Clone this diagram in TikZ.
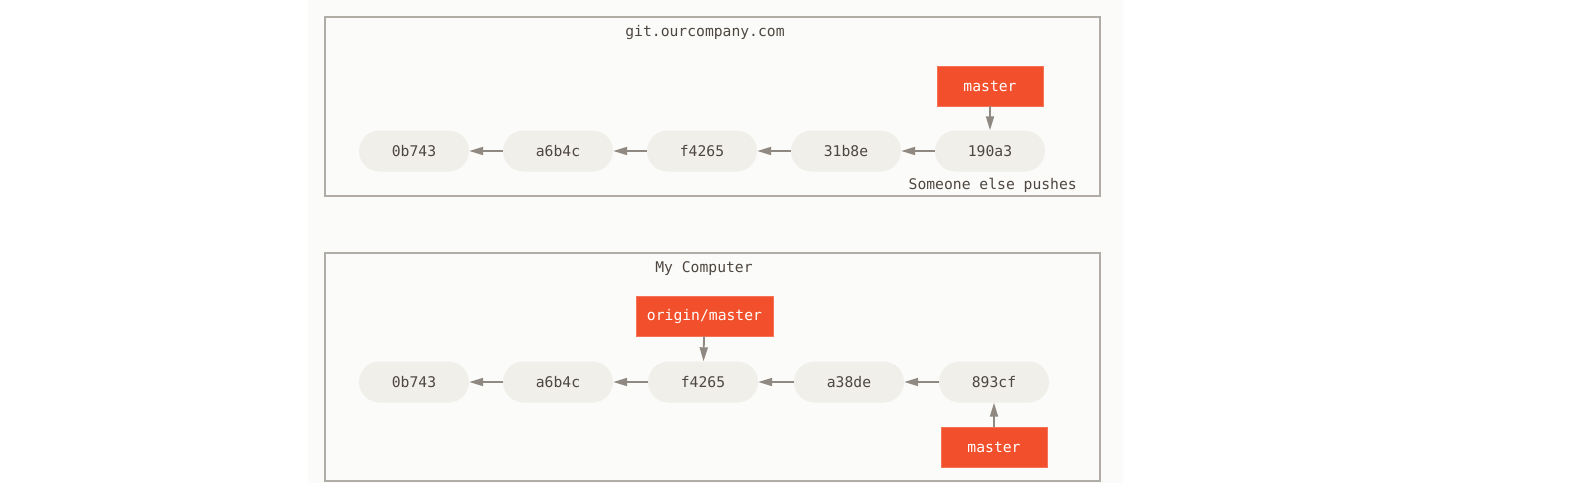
\documentclass[tikz,border=0pt]{standalone}
\usepackage{fontspec}
\setmonofont{DejaVu Sans Mono}
\usepackage{tikz}
\usetikzlibrary{arrows.meta, positioning}
\definecolor{bgwarm}{RGB}{251, 251, 249}
\definecolor{framegray}{RGB}{176, 173, 167}
\definecolor{commitfill}{RGB}{240, 239, 233}
\definecolor{inkbrown}{RGB}{78, 70, 64}
\definecolor{gitred}{RGB}{242, 80, 44}
\definecolor{arrowgray}{RGB}{143, 137, 130}

\begin{document}
\begin{tikzpicture}[
  x=1pt, y=-1pt,
  font=\ttfamily\fontsize{14.7}{17}\selectfont,
  commit/.style={fill=commitfill, rounded corners=20.5pt, minimum height=41pt, minimum width=110pt, inner sep=0pt, text=inkbrown},
  branch/.style={fill=gitred, draw=gitred!80!white, line width=0.8pt, minimum height=40pt, minimum width=106pt, inner sep=0pt, text=white},
  frame/.style={draw=framegray, line width=1.6pt},
  label/.style={text=inkbrown, inner sep=0pt},
  arrow/.style={-{Triangle[length=14pt, width=8pt]}, line width=1.8pt, draw=arrowgray, shorten >=0pt}
]
  \useasboundingbox (0,0) rectangle (1582,488);
  \fill[white] (0,0) rectangle (1582,488);
  \fill[bgwarm] (308,0) rectangle (1123,483);

  % Server
  \draw[frame] (325,17) rectangle (1100,196);
  \node[label] (server) at (705,32) {git.ourcompany.com};
  \node[commit] (s0) at (414,151) {0b743};
  \node[commit] (s1) at (558,151) {a6b4c};
  \node[commit] (s2) at (702,151) {f4265};
  \node[commit] (s3) at (846,151) {31b8e};
  \node[commit] (s4) at (990,151) {190a3};
  \node[branch] (smaster) at (990,86) {master};
  \node[label, anchor=east] (push) at (1077,185) {Someone else pushes};

  \draw[arrow] (s1) -- (s0);
  \draw[arrow] (s2) -- (s1);
  \draw[arrow] (s3) -- (s2);
  \draw[arrow] (s4) -- (s3);
  \draw[arrow] (smaster) -- (s4);

  % Local
  \draw[frame] (325,253) rectangle (1100,481);
  \node[label] (local) at (704,269) {My Computer};
  \node[commit] (l0) at (414,382) {0b743};
  \node[commit] (l1) at (558,382) {a6b4c};
  \node[commit] (l2) at (703,382) {f4265};
  \node[commit] (l3) at (849,382) {a38de};
  \node[commit] (l4) at (994,382) {893cf};
  \node[branch, minimum width=137pt] (origin) at (704.5,316) {origin/master};
  \node[branch] (lmaster) at (994,447) {master};

  \draw[arrow] (l1) -- (l0);
  \draw[arrow] (l2) -- (l1);
  \draw[arrow] (l3) -- (l2);
  \draw[arrow] (l4) -- (l3);
  \draw[arrow] (origin) -- (l2);
  \draw[arrow] (lmaster) -- (l4);
\end{tikzpicture}
\end{document}
